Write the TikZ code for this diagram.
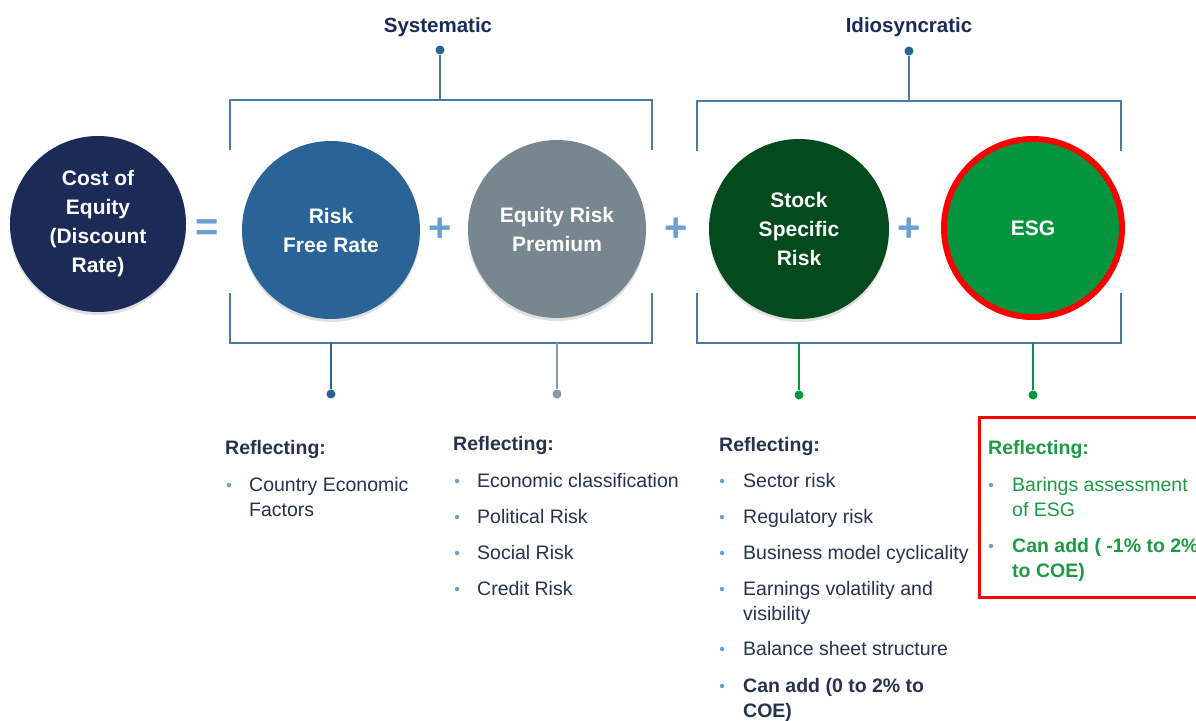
\documentclass[tikz,border=0pt]{standalone}
\usepackage{fontspec}
\setmainfont{Liberation Sans}
\usetikzlibrary{shadows}
\definecolor{navy}{HTML}{1B2A56}
\definecolor{rfblue}{HTML}{2A6396}
\definecolor{premgray}{HTML}{77868F}
\definecolor{stockgreen}{HTML}{034A1E}
\definecolor{esggreen}{HTML}{03953D}
\definecolor{brackblue}{HTML}{4A78A8}
\definecolor{plusblue}{HTML}{6A9FD2}
\definecolor{textnavy}{HTML}{27324F}
\definecolor{listgreen}{HTML}{1E9A45}
\definecolor{stemgray}{HTML}{8A99A5}

\begin{document}
\begin{tikzpicture}[x=1pt, y=-1pt,
  ball/.style={circle, minimum size=178pt, inner sep=0pt, text=white, align=center,
    font=\bfseries\fontsize{21}{29}\selectfont,
    drop shadow={opacity=.25, shadow xshift=0pt, shadow yshift=-3pt}},
  sign/.style={text=plusblue, font=\bfseries\fontsize{40}{40}\selectfont, inner sep=0pt},
  head/.style={text=navy, font=\bfseries\fontsize{20.5}{24}\selectfont, inner sep=0pt},
  refl/.style={text=textnavy, font=\bfseries\fontsize{19.5}{25}\selectfont, anchor=base west, inner sep=0pt},
  item/.style={text=textnavy, font=\fontsize{19.5}{25}\selectfont, anchor=base west, align=left, inner sep=0pt},
  bul/.style={circle, fill=plusblue, minimum size=4.5pt, inner sep=0pt},
  knob/.style={circle, fill=#1, minimum size=9pt, inner sep=0pt},
  bracket/.style={draw=brackblue, line width=1.8pt},
  stem/.style={draw=#1, line width=1.8pt}]
  \useasboundingbox[fill=white] (0,0) rectangle (1196,720);

  % circles
  \node[ball, fill=navy, minimum size=176pt] (coe) at (98,224) {Cost of\\Equity\\(Discount\\Rate)};
  \node[ball, fill=rfblue] (rf) at (331,230) {Risk\\Free Rate};
  \node[ball, fill=premgray] (erp) at (557,229) {Equity Risk\\Premium};
  \node[ball, fill=stockgreen, minimum size=180pt] (ssr) at (799,229) {Stock\\Specific\\Risk};
  \node[ball, fill=esggreen, draw=red, line width=6pt, drop shadow={opacity=0}] (esg) at (1033,228) {ESG};
  \node[sign] (eq) at (207,230) {=};
  \node[sign] (p1) at (440,230) {+};
  \node[sign] (p2) at (676,230) {+};
  \node[sign] (p3) at (909,230) {+};

  % brackets
  \coordinate (sysT) at (440,100);
  \coordinate (idiT) at (909,101);
  \draw[bracket] (230,150) |- (sysT) -| (652,150);
  \draw[bracket] (230,293) |- (652,343) -- (652,293);
  \draw[bracket] (697,151) |- (idiT) -| (1121,151);
  \draw[bracket] (697,293) |- (1121,343) -- (1121,293);

  \node[head] (sys) at (438,27) {Systematic};
  \node[head] (idi) at (909,27) {Idiosyncratic};
  \node[knob=rfblue] (sysK) at (440,50) {};
  \node[knob=rfblue] (idiK) at (909,51) {};
  \draw[stem=brackblue] (sysK) -- (sysT);
  \draw[stem=brackblue] (idiK) -- (idiT);

  \coordinate (rfB) at (331,343);
  \coordinate (erpB) at (557,343);
  \coordinate (ssrB) at (799,343);
  \coordinate (esgB) at (1033,343);
  \node[knob=rfblue] (rfK) at (331,394) {};
  \node[knob=stemgray] (erpK) at (557,394) {};
  \node[knob=esggreen] (ssrK) at (799,395) {};
  \node[knob=esggreen] (esgK) at (1033,395) {};
  \draw[stem=rfblue] (rfB) -- (rfK);
  \draw[stem=stemgray] (erpB) -- (erpK);
  \draw[stem=esggreen] (ssrB) -- (ssrK);
  \draw[stem=esggreen] (esgB) -- (esgK);

  % lists (base of a two-line node is its last line)
  \node[refl] (r1) at (225,454) {Reflecting:};
  \node[bul] (b1) at (229,485) {};
  \node[item] (t1) at (249,516) {Country Economic\\Factors};

  \node[refl] (r2) at (453,450) {Reflecting:};
  \foreach \t/\y [count=\i] in {Economic classification/487, Political Risk/523, Social Risk/559, Credit Risk/595} {
    \node[bul] (eb\i) at (457,\y-6) {};
    \node[item] (et\i) at (477,\y) {\t};
  }

  \node[refl] (r3) at (719,451) {Reflecting:};
  \foreach \t/\y/\b [count=\i] in {Sector risk/487/487, Regulatory risk/523/523,
      Business model cyclicality/559/559, {Earnings volatility and\\visibility}/595/620,
      Balance sheet structure/655/655, {\bfseries Can add (0 to 2\% to\\\bfseries COE)}/692/717} {
    \node[bul] (sb\i) at (722,\y-6) {};
    \node[item] (st\i) at (743,\b) {\t};
  }

  \draw[red, line width=3pt] (979,417) rectangle (1200,597);
  \node[refl, text=listgreen] (r4) at (988,454) {Reflecting:};
  \node[bul] (gb1) at (991,485) {};
  \node[item, text=listgreen] (gt1) at (1012,516) {Barings assessment\\of ESG};
  \node[bul] (gb2) at (991,546) {};
  \node[item, text=listgreen, font=\bfseries\fontsize{19.5}{25}\selectfont] (gt2) at (1012,577) {Can add ( -1\% to 2\%\\to COE)};
\end{tikzpicture}
\end{document}
